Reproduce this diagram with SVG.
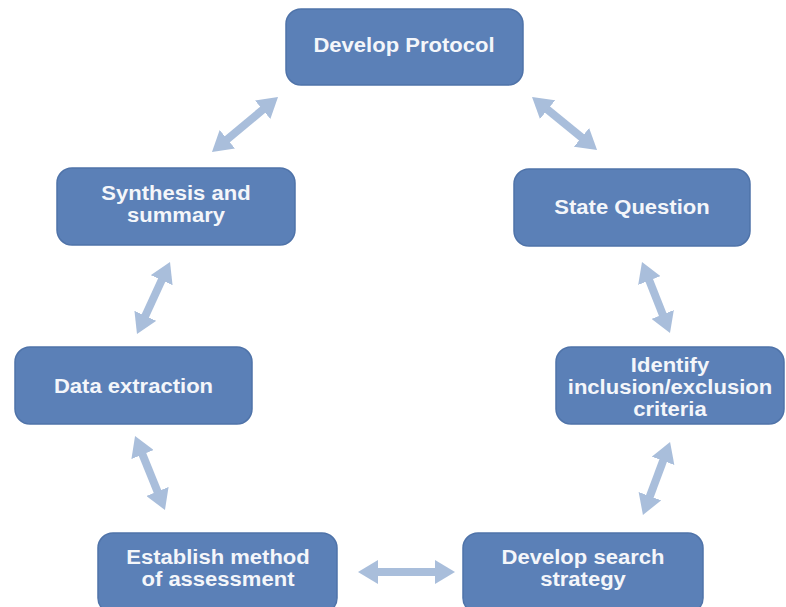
<svg xmlns="http://www.w3.org/2000/svg" width="786" height="607" viewBox="0 0 786 607">
<defs>
<marker id="head" viewBox="0 0 20 24" refX="2" refY="12" markerWidth="20" markerHeight="24" markerUnits="userSpaceOnUse" orient="auto-start-reverse">
<path d="M0,0 L20,12 L0,24 z" fill="#a9bedb"/>
</marker>
</defs>
<style>
.box{fill:#5b80b7;stroke:#4f73a9;stroke-width:1.5}
.lbl{font-family:"Liberation Sans",Arial,sans-serif;font-weight:bold;font-size:19.5px;fill:#f4f6fa;text-anchor:middle}
.arr{stroke:#a9bedb;stroke-width:8;fill:none;marker-start:url(#head);marker-end:url(#head)}
</style>
<rect width="786" height="607" fill="#ffffff"/>
<g id="connectors">
<line class="arr" x1="264.2" y1="108.5" x2="225.8" y2="140.5"/>
<line class="arr" x1="546.0" y1="108.4" x2="583.1" y2="138.6"/>
<line class="arr" x1="648.6" y1="278.7" x2="663.4" y2="316.3"/>
<line class="arr" x1="162.5" y1="278.4" x2="144.5" y2="317.6"/>
<line class="arr" x1="141.8" y1="452.7" x2="158.2" y2="493.3"/>
<line class="arr" x1="663.8" y1="458.9" x2="649.2" y2="498.1"/>
<line class="arr" x1="376" y1="572" x2="437" y2="572"/>
</g>
<g id="develop-protocol">
<rect class="box" x="286" y="9" width="237" height="76" rx="15"/>
<g transform="scale(1.13,1)"><text class="lbl" x="357.52" y="52">Develop Protocol</text></g>
</g>
<g id="state-question">
<rect class="box" x="514" y="169" width="236" height="77" rx="15"/>
<g transform="scale(1.13,1)"><text class="lbl" x="559.29" y="214">State Question</text></g>
</g>
<g id="identify-criteria">
<rect class="box" x="556" y="347" width="228" height="77" rx="15"/>
<g transform="scale(1.13,1)">
<text class="lbl" x="592.92" y="372">Identify</text>
<text class="lbl" x="592.92" y="394">inclusion/exclusion</text>
<text class="lbl" x="592.92" y="416">criteria</text>
</g>
</g>
<g id="develop-search">
<rect class="box" x="463" y="533" width="240" height="80" rx="15"/>
<g transform="scale(1.13,1)">
<text class="lbl" x="515.93" y="564">Develop search</text>
<text class="lbl" x="515.93" y="586">strategy</text>
</g>
</g>
<g id="establish-method">
<rect class="box" x="98" y="533" width="239" height="80" rx="15"/>
<g transform="scale(1.13,1)">
<text class="lbl" x="192.92" y="564">Establish method</text>
<text class="lbl" x="192.92" y="586">of assessment</text>
</g>
</g>
<g id="data-extraction">
<rect class="box" x="15" y="347" width="237" height="77" rx="15"/>
<g transform="scale(1.13,1)"><text class="lbl" x="118.14" y="393">Data extraction</text></g>
</g>
<g id="synthesis-summary">
<rect class="box" x="57" y="168" width="238" height="77" rx="15"/>
<g transform="scale(1.13,1)">
<text class="lbl" x="155.75" y="200">Synthesis and</text>
<text class="lbl" x="155.75" y="222">summary</text>
</g>
</g>
</svg>
